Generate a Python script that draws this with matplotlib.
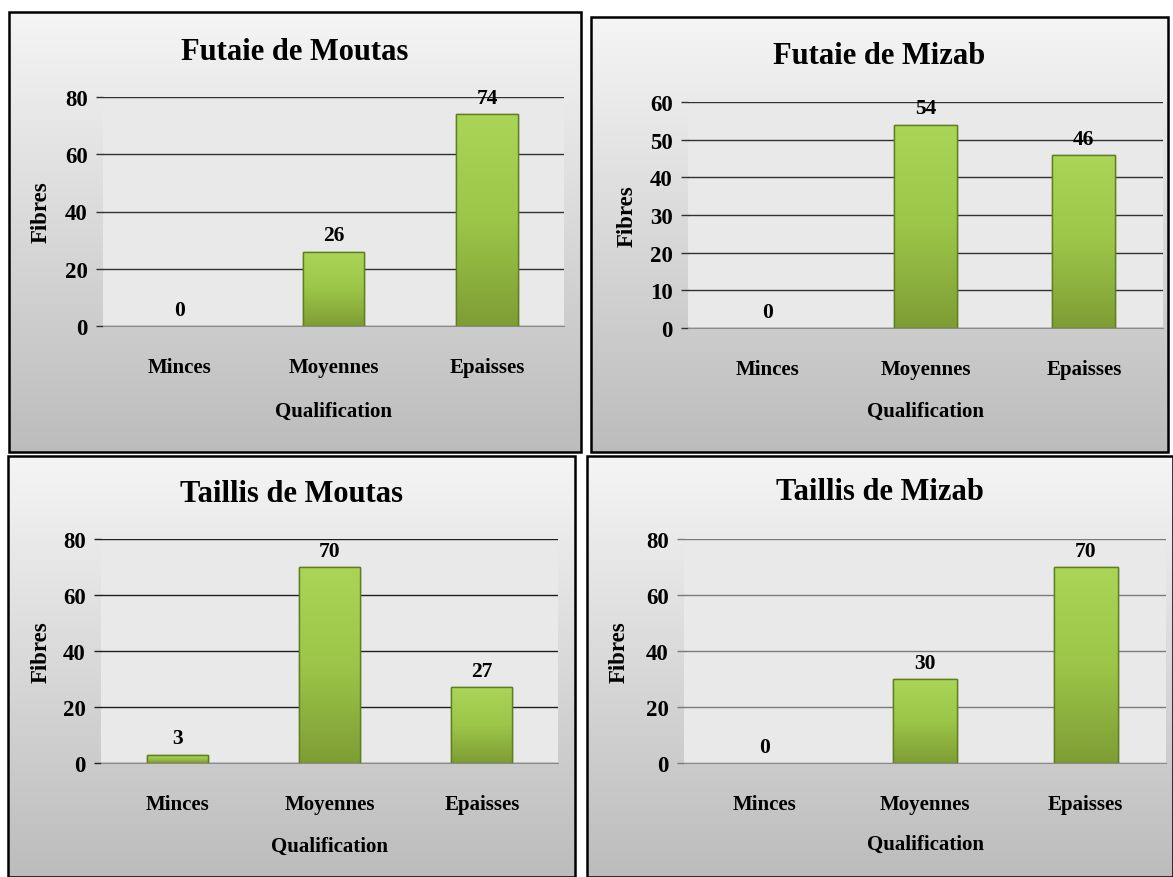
import numpy as np
import matplotlib
matplotlib.use("Agg")
import matplotlib.pyplot as plt
from matplotlib.patches import Rectangle

# Data
categories = ["Minces", "Moyennes", "Epaisses"]
titles = ["Futaie de Moutas", "Futaie de Mizab",
          "Taillis de Moutas", "Taillis de Mizab"]
futaie_moutas = [0, 26, 74]
futaie_mizab = [0, 54, 46]
taillis_moutas = [3, 70, 27]
taillis_mizab = [0, 30, 70]
y_ticks = [[0, 20, 40, 60, 80], [0, 10, 20, 30, 40, 50, 60],
           [0, 20, 40, 60, 80], [0, 20, 40, 60, 80]]

W, H = 1173, 878
plt.rcParams["font.family"] = ["Liberation Serif", "DejaVu Serif"]
plt.rcParams["font.weight"] = "bold"

fig = plt.figure(figsize=(W / 100, H / 100), dpi=100)

# background layer in pixel coordinates
bg = fig.add_axes([0, 0, 1, 1])
bg.set_xlim(0, W)
bg.set_ylim(H, 0)
bg.axis("off")

# panel layout: box, plot area, title y, category y, xlabel y, ylabel x
panels = [
    dict(box=(9, 13, 581, 453), plot=(103, 98, 564, 327),
         ty=52, qy=412, fx=41, grid="#303030"),
    dict(box=(591, 18, 1168, 453), plot=(688, 103, 1163, 329),
         ty=57, qy=412, fx=627, grid="#303030"),
    dict(box=(8, 457, 575, 878), plot=(101, 540, 558, 764),
         ty=495, qy=847, fx=41, grid="#202020"),
    dict(box=(587, 457, 1173, 878), plot=(684, 540, 1166, 764),
         ty=493, qy=845, fx=619, grid="#7a7a7a"),
]
series = [futaie_moutas, futaie_mizab, taillis_moutas, taillis_mizab]

vgrad = np.linspace(0, 1, 256).reshape(-1, 1)
panel_cmap = matplotlib.colors.LinearSegmentedColormap.from_list(
    "panel", ["#f5f5f5", "#bcbcbc"])
bar_cmap = matplotlib.colors.LinearSegmentedColormap.from_list(
    "bar", ["#abd556", "#9cc648", "#7e9d35"])


def px_axes(x0, y0, x1, y1):
    return fig.add_axes([x0 / W, 1 - y1 / H, (x1 - x0) / W, (y1 - y0) / H])


for p, values, title, ticks in zip(panels, series, titles, y_ticks):
    bx0, by0, bx1, by1 = p["box"]
    bg.imshow(vgrad, cmap=panel_cmap, aspect="auto",
              extent=[bx0, bx1, by1, by0], zorder=0)
    bg.add_patch(Rectangle((bx0, by0), bx1 - bx0, by1 - by0, fill=False,
                           edgecolor="black", lw=1.8, zorder=2))
    bg.text((bx0 + bx1) / 2, p["ty"], title, ha="center", va="center",
            fontsize=22, fontweight="bold")

    x0, y0, x1, y1 = p["plot"]
    ax = px_axes(x0, y0, x1, y1)
    ax.set_facecolor("#e9e9e9")
    ax.set_zorder(3)
    x = np.arange(len(categories))
    bars = ax.bar(x, values, width=0.4, color="#98c244",
                  edgecolor="#5f7d22", linewidth=1.0, zorder=3)
    for b in bars:
        if b.get_height() <= 0:
            b.set_linewidth(0)
            continue
        im = ax.imshow(vgrad, cmap=bar_cmap, aspect="auto",
                       extent=[b.get_x(), b.get_x() + b.get_width(),
                               0, b.get_height()], zorder=3.5)
        im.set_clip_path(b)
        ax.add_patch(Rectangle((b.get_x(), 0), b.get_width(), b.get_height(),
                               fill=False, edgecolor="#5f7d22", lw=1.0,
                               zorder=3.6))
    for xi, v in zip(x, values):
        ax.annotate(str(v), (xi, v), xytext=(0, 8),
                    textcoords="offset points", ha="center", va="baseline",
                    fontsize=15.5, fontweight="bold", zorder=5)

    ax.set_xlim(-0.5, len(categories) - 0.5)
    ax.set_ylim(0, ticks[-1])
    ax.set_yticks(ticks)
    ax.set_xticks(x)
    ax.set_xticklabels(categories, fontsize=15, fontweight="bold")
    ax.tick_params(axis="x", length=0, pad=22)
    ax.tick_params(axis="y", length=5, width=1, color=p["grid"], pad=6,
                   labelsize=16.5)
    for lab in ax.get_yticklabels():
        lab.set_fontweight("bold")
    ax.yaxis.grid(True, color=p["grid"], lw=1.0)
    ax.set_axisbelow(True)
    for side in ["left", "right", "top"]:
        ax.spines[side].set_visible(False)
    ax.spines["bottom"].set_color("#8c8c8c")

    ax.set_xlabel("Qualification", fontsize=15, fontweight="bold",
                  va="center")
    ax.xaxis.set_label_coords(0.5, -(p["qy"] - y1) / (y1 - y0))
    ax.set_ylabel("Fibres", fontsize=16.5, fontweight="bold", va="center")
    ax.yaxis.set_label_coords(-(x0 - p["fx"]) / (x1 - x0), 0.5)

fig.savefig("out.png", dpi=100)
